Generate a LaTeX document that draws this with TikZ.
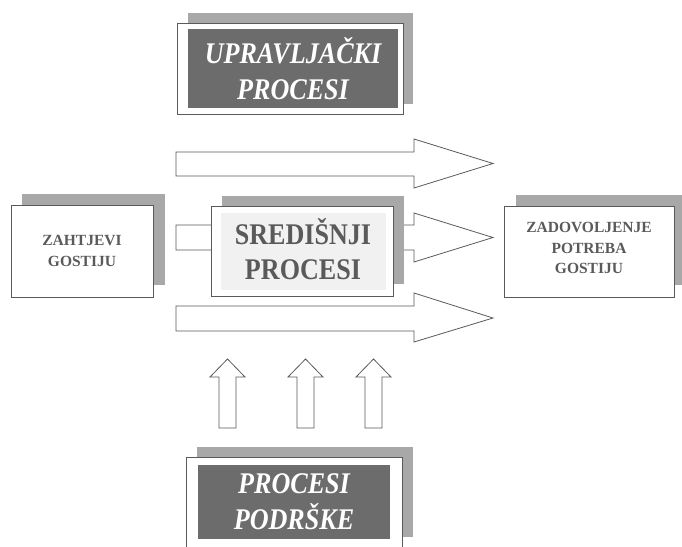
\documentclass[tikz,border=0pt]{standalone}
\usepackage{fontspec}
\setmainfont{Liberation Serif}
\newfontfamily\narrowserif[FakeStretch=0.87]{Liberation Serif}
\definecolor{linegray}{HTML}{5A5A5A}
\definecolor{shadowgray}{HTML}{A8A8A8}
\definecolor{darkfill}{HTML}{6C6C6C}
\definecolor{textgray}{HTML}{5A5A5A}
\definecolor{lightfill}{HTML}{F1F1F1}
\tikzset{
 framebox/.style={draw=linegray, fill=white, line width=0.8pt, inner sep=0pt},
 shadowbox/.style={fill=shadowgray},
 darkbox/.style={fill=darkfill, inner sep=0pt},
 lightbox/.style={fill=lightfill, inner sep=0pt},
 blockarrow/.style={draw=linegray, fill=white, line width=0.8pt, line join=miter},
 smalltext/.style={text=textgray, font=\bfseries\fontsize{15.5}{20.5}\selectfont, align=center},
 bigtext/.style={text=textgray, font=\narrowserif\bfseries\fontsize{30}{35}\selectfont, align=center},
 whitetext/.style={text=white, font=\narrowserif\bfseries\itshape\fontsize{30}{36}\selectfont, align=center},
}
\begin{document}
\begin{tikzpicture}[x=1pt,y=-1pt]
\useasboundingbox (0,0) rectangle (682,546);
\fill[white] (0,0) rectangle (682,546);
\clip (0,0) rectangle (682,546);

% horizontal block arrows
\draw[blockarrow] (176,152) -- (414,152) -- (414,139) -- (493,163.5) -- (414,188) -- (414,176) -- (176,176) -- cycle;
\draw[blockarrow] (176,225) -- (414,225) -- (414,213) -- (493,237.5) -- (414,262) -- (414,250) -- (176,250) -- cycle;
\draw[blockarrow] (176,306) -- (414,306) -- (414,293) -- (493,318) -- (414,342) -- (414,331) -- (176,331) -- cycle;

% vertical block arrows
\foreach \cx in {227.5,305.5,373.5}{
  \draw[blockarrow] (\cx-8.5,428) -- (\cx-8.5,377) -- (\cx-17.5,377) -- (\cx,359) -- (\cx+17.5,377) -- (\cx+8.5,377) -- (\cx+8.5,428) -- cycle;
}

% top box: upravljacki procesi
\fill[shadowbox] (188,13) rectangle (413,104);
\node[framebox, minimum width=226pt, minimum height=91pt] (upravF) at (290,68.5) {};
\node[darkbox, minimum width=210pt, minimum height=79pt] (uprav) at (293,68.5) {};
\node[whitetext] (upravT) at (uprav.center) {UPRAVLJAČKI\\PROCESI};

% left box
\fill[shadowbox] (22,194) rectangle (165,285);
\node[framebox, minimum width=142pt, minimum height=92pt] (zaht) at (82,251) {};
\node[smalltext] (zahtT) at (zaht.center) {ZAHTJEVI\\GOSTIJU};

% middle box
\fill[shadowbox] (222,196) rectangle (404,284);
\node[framebox, minimum width=182pt, minimum height=90pt] (sred) at (302,251) {};
\node[lightbox, minimum width=165pt, minimum height=77pt] (sredL) at (303.5,251.5) {};
\node[bigtext] (sredT) at (303,249.5) {SREDIŠNJI\\PROCESI};

% right box
\fill[shadowbox] (516,195) rectangle (684,285);
\node[framebox, minimum width=170pt, minimum height=91pt] (zadov) at (589,251.5) {};
\node[smalltext] (zadovT) at (589,248) {ZADOVOLJENJE\\POTREBA\\GOSTIJU};

% bottom box: procesi podrske
\fill[shadowbox] (197,447) rectangle (413,537);
\node[framebox, minimum width=216pt, minimum height=103pt] (podrF) at (294,508.5) {};
\node[darkbox, minimum width=192pt, minimum height=74pt] (podr) at (294,502) {};
\node[whitetext] (podrT) at (podr.center) {PROCESI\\PODRŠKE};
\end{tikzpicture}
\end{document}
